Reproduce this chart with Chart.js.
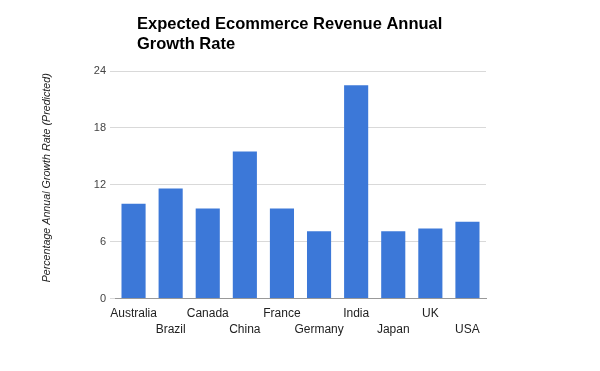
<!DOCTYPE html>
<html>
<head>
<meta charset="utf-8">
<script src="https://cdn.jsdelivr.net/npm/chart.js@4"></script>
<style>
  html, body { margin: 0; padding: 0; background: #fff; }
  #wrap { width: 600px; height: 371px; position: relative; }
</style>
</head>
<body>
<div id="wrap"><canvas id="c" width="600" height="371"></canvas></div>
<script>
const categories = ["Australia", "Brazil", "Canada", "China", "France", "Germany", "India", "Japan", "UK", "USA"];
const growthRates = [10.0, 11.6, 9.5, 15.5, 9.5, 7.1, 22.5, 7.1, 7.4, 8.1];
const yTicks = [0, 6, 12, 18, 24];
const titleLines = ["Expected Ecommerce Revenue Annual", "Growth Rate"];
const yAxisTitle = "Percentage Annual Growth Rate (Predicted)";

const titlePlugin = {
  id: 'leftTitle',
  afterDraw(chart) {
    const ctx = chart.ctx;
    ctx.save();
    ctx.fillStyle = '#000';
    ctx.font = 'bold 16.5px "Liberation Sans", Arial, sans-serif';
    ctx.textAlign = 'left';
    ctx.textBaseline = 'alphabetic';
    titleLines.forEach((t, i) => ctx.fillText(t, 137, 29 + i * 20));
    ctx.restore();
  }
};

// Draw y-axis title slightly above center of the plot (as in the reference)
const yTitlePlugin = {
  id: 'yTitle',
  afterDraw(chart) {
    const ctx = chart.ctx;
    const area = chart.chartArea;
    ctx.save();
    ctx.fillStyle = '#222';
    ctx.font = 'italic 10.7px "Liberation Sans", Arial, sans-serif';
    ctx.textAlign = 'center';
    ctx.textBaseline = 'middle';
    ctx.translate(47, (area.top + area.bottom) / 2 - 7);
    ctx.rotate(-Math.PI / 2);
    ctx.fillText(yAxisTitle, 0, 0);
    ctx.restore();
  }
};

new Chart(document.getElementById('c'), {
  type: 'bar',
  data: {
    labels: categories,
    datasets: [{
      data: growthRates,
      backgroundColor: '#3c78d8',
      borderWidth: 0,
      categoryPercentage: 1.0,
      barPercentage: 0.65
    }]
  },
  options: {
    responsive: false,
    animation: false,
    devicePixelRatio: 1,
    layout: { padding: { left: 41, right: 114, top: 71, bottom: 26 } },
    plugins: {
      legend: { display: false },
      title: { display: false },
      tooltip: { enabled: false }
    },
    scales: {
      x: {
        grid: { display: false, drawTicks: false },
        border: { display: true, color: '#999', width: 1 },
        ticks: {
          autoSkip: false,
          maxRotation: 0,
          minRotation: 0,
          padding: 7,
          color: '#222',
          font: { family: '"Liberation Sans", Arial, sans-serif', size: 12, lineHeight: 1.35 },
          callback: function(v, i) {
            const l = categories[i];
            return i % 2 === 0 ? [l] : ['', l];
          }
        }
      },
      y: {
        min: 0,
        max: 24,
        afterBuildTicks: (scale) => { scale.ticks = yTicks.map(v => ({ value: v })); },
        afterFit: (scale) => { scale.width = 74; },
        grid: { color: '#d9d9d9', tickLength: 5, drawTicks: true },
        border: { display: false },
        ticks: {
          padding: 4,
          color: '#444',
          font: { family: '"Liberation Sans", Arial, sans-serif', size: 11 }
        },
        title: { display: false }
      }
    }
  },
  plugins: [titlePlugin, yTitlePlugin]
});
</script>
</body>
</html>
